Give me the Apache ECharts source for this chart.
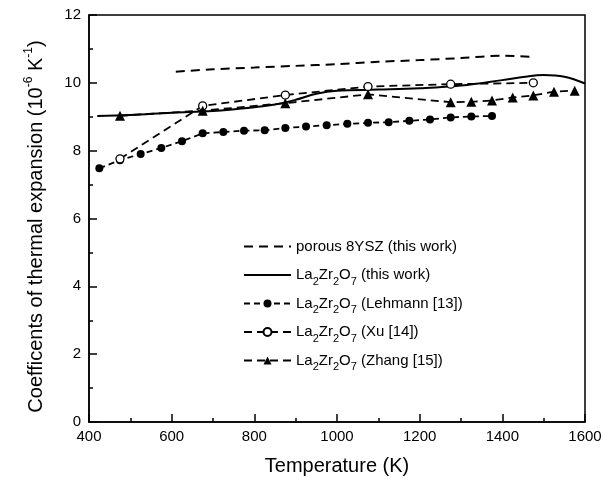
<!DOCTYPE html>
<html><head><meta charset="utf-8">
<script src="https://cdn.jsdelivr.net/npm/echarts@6/dist/echarts.min.js"></script>
<style>html,body{margin:0;padding:0;background:#fff}#c{width:610px;height:485px}</style>
</head><body><div id="c"></div>
<script>
const FONT = '"Liberation Sans", Arial, Helvetica, sans-serif';

// porous 8YSZ (this work)
const porousT = [610, 700, 800, 900, 1000, 1100, 1200, 1300, 1400, 1475];
const porousCTE = [10.33, 10.40, 10.45, 10.50, 10.55, 10.62, 10.67, 10.73, 10.80, 10.76];

// La2Zr2O7 (this work)
const thisT = [420, 500, 600, 700, 800, 850, 900, 950, 1000, 1100, 1200, 1300, 1400, 1450, 1500, 1550, 1600];
const thisCTE = [9.02, 9.05, 9.12, 9.17, 9.28, 9.36, 9.50, 9.68, 9.77, 9.80, 9.84, 9.92, 10.08, 10.17, 10.23, 10.18, 9.98];

// La2Zr2O7 (Lehmann [13])
const lehmannT = [425, 475, 525, 575, 625, 675, 725, 775, 825, 875, 925, 975, 1025, 1075, 1125, 1175, 1225, 1275, 1325, 1375];
const lehmannCTE = [7.48, 7.72, 7.90, 8.08, 8.28, 8.51, 8.55, 8.59, 8.60, 8.67, 8.71, 8.75, 8.79, 8.82, 8.84, 8.88, 8.92, 8.98, 9.01, 9.02];

// La2Zr2O7 (Xu [14])
const xuT = [475, 675, 875, 1075, 1275, 1475];
const xuCTE = [7.76, 9.32, 9.64, 9.89, 9.96, 10.00];

// La2Zr2O7 (Zhang [15])
const zhangT = [475, 675, 875, 1075, 1275, 1325, 1375, 1425, 1475, 1525, 1575];
const zhangCTE = [9.03, 9.18, 9.40, 9.66, 9.43, 9.44, 9.48, 9.57, 9.63, 9.74, 9.77];

const seriesNames = [
  'porous 8YSZ (this work)',
  'La2Zr2O7 (this work)',
  'La2Zr2O7 (Lehmann [13])',
  'La2Zr2O7 (Xu [14])',
  'La2Zr2O7 (Zhang [15])'
];

function pairs(xs, ys) { return xs.map((x, i) => [x, ys[i]]); }

function legendFmt(name) {
  if (name.indexOf('La2Zr2O7') === 0) {
    return '{n|La}{s|2}{n|Zr}{s|2}{n|O}{s|7}{n|' + name.slice(8) + '}';
  }
  return '{n|' + name + '}{s| }';
}

const chart = echarts.init(document.getElementById('c'), null, { renderer: 'canvas' });

const axisCommon = {
  axisLine: { lineStyle: { color: '#000', width: 1.5 } },
  axisTick: { inside: true, length: 8, lineStyle: { color: '#000', width: 1.5 } },
  minorTick: { show: true, splitNumber: 2, length: 4, lineStyle: { color: '#000', width: 1.5 } },
  splitLine: { show: false },
  minorSplitLine: { show: false }
};

chart.setOption({
  animation: false,
  backgroundColor: '#fff',
  grid: { left: 89, right: 25, top: 15, bottom: 63, show: true, borderColor: '#000', borderWidth: 1.5, containLabel: false },
  xAxis: Object.assign({
    type: 'value', min: 400, max: 1600, interval: 200,
    axisLabel: { color: '#000', fontSize: 15, fontFamily: FONT, margin: 7, formatter: v => String(v) },
    name: 'Temperature (K)', nameLocation: 'middle', nameGap: 34,
    nameTextStyle: { color: '#000', fontSize: 20, fontFamily: FONT }
  }, axisCommon),
  yAxis: Object.assign({
    type: 'value', min: 0, max: 12, interval: 2,
    axisLabel: { color: '#000', fontSize: 15, fontFamily: FONT, margin: 8, formatter: v => String(v) },
    name: '{n|Coefficents of thermal expansion (10}{p|-6}{n| K}{p|-1}{n|)}',
    nameLocation: 'middle', nameGap: 40,
    nameTextStyle: {
      color: '#000', fontSize: 20, fontFamily: FONT, padding: [0, 16, 0, 0],
      rich: {
        n: { fontSize: 20, lineHeight: 26, fontFamily: FONT, color: '#000' },
        p: { fontSize: 12, lineHeight: 14, verticalAlign: 'top', fontFamily: FONT, color: '#000' }
      }
    }
  }, axisCommon),
  legend: {
    orient: 'vertical', left: 238, top: 234,
    itemWidth: 47, itemHeight: 10, itemGap: 9,
    data: [
      { name: seriesNames[0], itemStyle: { opacity: 0 } },
      { name: seriesNames[1], itemStyle: { opacity: 0 } },
      { name: seriesNames[2] },
      { name: seriesNames[3] },
      { name: seriesNames[4] }
    ],
    formatter: legendFmt,
    textStyle: {
      color: '#000', fontSize: 15, fontFamily: FONT,
      rich: {
        n: { fontSize: 15, lineHeight: 24, fontFamily: FONT, color: '#000' },
        s: { fontSize: 11, lineHeight: 12, verticalAlign: 'bottom', fontFamily: FONT, color: '#000' }
      }
    }
  },
  series: [
    {
      name: seriesNames[0], type: 'line', data: pairs(porousT, porousCTE),
      symbol: 'none', smooth: 0.3,
      lineStyle: { color: '#000', width: 2, type: [9, 6] }, itemStyle: { color: '#000' }
    },
    {
      name: seriesNames[1], type: 'line', data: pairs(thisT, thisCTE),
      symbol: 'none', smooth: 0.4,
      lineStyle: { color: '#000', width: 2, type: 'solid' }, itemStyle: { color: '#000' }
    },
    {
      name: seriesNames[2], type: 'line', data: pairs(lehmannT, lehmannCTE),
      symbol: 'circle', symbolSize: 8,
      lineStyle: { color: '#000', width: 1.8, type: [6, 4] }, itemStyle: { color: '#000' }
    },
    {
      name: seriesNames[3], type: 'line', data: pairs(xuT, xuCTE),
      symbol: 'circle', symbolSize: 8,
      lineStyle: { color: '#000', width: 1.8, type: [8, 5] },
      itemStyle: { color: '#fff', borderColor: '#000', borderWidth: 1.3 }
    },
    {
      name: seriesNames[4], type: 'line', data: pairs(zhangT, zhangCTE),
      symbol: 'triangle', symbolSize: 10,
      lineStyle: { color: '#000', width: 1.8, type: [8, 5] }, itemStyle: { color: '#000' }
    }
  ]
});
</script>
</body></html>
